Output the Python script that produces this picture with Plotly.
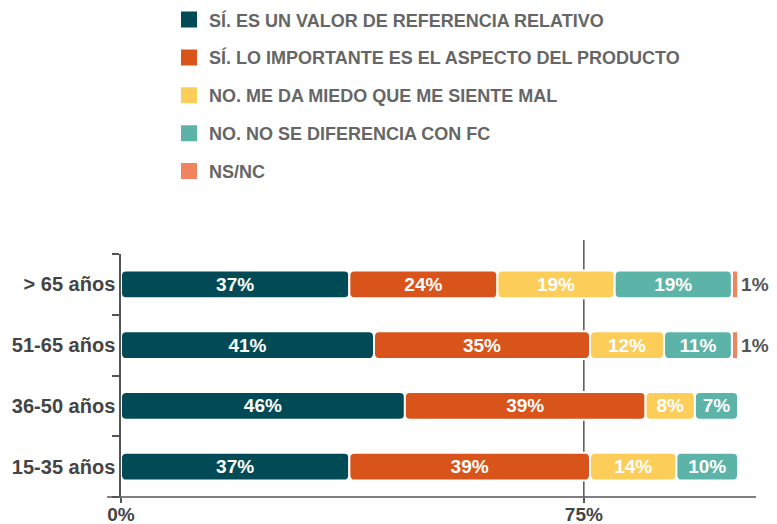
import plotly.graph_objects as go
import numpy as np

categories = ["15-35 años", "36-50 años", "51-65 años", "> 65 años"]
series_names = [
    "SÍ. ES UN VALOR DE REFERENCIA RELATIVO",
    "SÍ. LO IMPORTANTE ES EL ASPECTO DEL PRODUCTO",
    "NO. ME DA MIEDO QUE ME SIENTE MAL",
    "NO. NO SE DIFERENCIA CON FC",
    "NS/NC",
]
s_ref_relativo = [37, 46, 41, 37]
s_aspecto = [39, 39, 35, 24]
s_miedo = [14, 8, 12, 19]
s_no_diferencia = [10, 7, 11, 19]
s_nsnc = [None, None, 1, 1]
x_tick_vals = [0, 75]
x_tick_text = ["0%", "75%"]

colors = ["#024b56", "#d9541a", "#fdcd5a", "#5bb4a7", "#ef845f"]
series = [s_ref_relativo, s_aspecto, s_miedo, s_no_diferencia, s_nsnc]

FONT = "Liberation Sans"
fig = go.Figure()

base = np.zeros(len(categories))
for i, (name, vals) in enumerate(zip(series_names, series)):
    v = np.array([np.nan if x is None else x for x in vals], dtype=float)
    outside = (i == 4)
    fig.add_trace(go.Bar(
        y=categories, x=v, base=base.copy(), orientation="h",
        name=name, showlegend=False,
        width=0.46,
        marker=dict(color=colors[i], line=dict(color="white", width=2),
                    cornerradius=1 if outside else 5),
        text=[("" if np.isnan(val) else f"{int(val)}%") for val in v],
        textposition="outside" if outside else "inside",
        insidetextanchor="middle",
        constraintext="none",
        cliponaxis=False,
        textfont=dict(family=FONT, size=19, weight="bold",
                      color="#555555" if outside else "white"),
        hoverinfo="skip",
    ))
    base = base + np.nan_to_num(v)

# legend entries
for i, name in enumerate(series_names):
    fig.add_trace(go.Scatter(
        x=[None], y=[None], mode="markers", name=name,
        legendgroup=f"g{i}",
        marker=dict(symbol="square", size=16, color=colors[i]),
    ))

fig.update_layout(
    width=769, height=516,
    margin=dict(l=113, r=21, t=246, b=27, autoexpand=False),
    paper_bgcolor="white", plot_bgcolor="white",
    barmode="overlay",
    font=dict(family=FONT, color="#444444"),
    showlegend=True,
    legend=dict(
        x=0.0756, y=2.04, xanchor="left", yanchor="top",
        font=dict(family=FONT, size=18, weight="bold", color="#666666"),
        tracegroupgap=11.5, itemclick=False, itemdoubleclick=False,
        bgcolor="rgba(0,0,0,0)",
    ),
    xaxis=dict(
        range=[0, 102.9], showgrid=False, zeroline=False, showline=False,
        tickmode="array", tickvals=x_tick_vals, ticktext=x_tick_text,
        ticks="outside", ticklen=5, tickwidth=1.5, tickcolor="#555555",
        ticklabelstandoff=-5,
        tickfont=dict(family=FONT, size=19, weight="bold", color="#444444"),
    ),
    yaxis=dict(
        type="category", categoryorder="array", categoryarray=categories,
        range=[-0.5, 3.5], showgrid=False, zeroline=False,
        showline=True, linecolor="#555555", linewidth=1.5,
        ticks="outside", tickson="boundaries", ticklen=7, tickwidth=1.5,
        tickcolor="#555555",
        tickfont=dict(family=FONT, size=20, weight="bold", color="#444444"),
    ),
    shapes=[
        dict(type="line", xref="paper", yref="paper", x0=-0.022, x1=1,
             y0=0, y1=0, line=dict(color="#555555", width=1.5)),
        dict(type="line", xref="x", yref="paper", x0=75, x1=75,
             y0=0, y1=1.058, line=dict(color="#555555", width=1.5), layer="below"),
    ],
)

fig.write_html("out.html")
